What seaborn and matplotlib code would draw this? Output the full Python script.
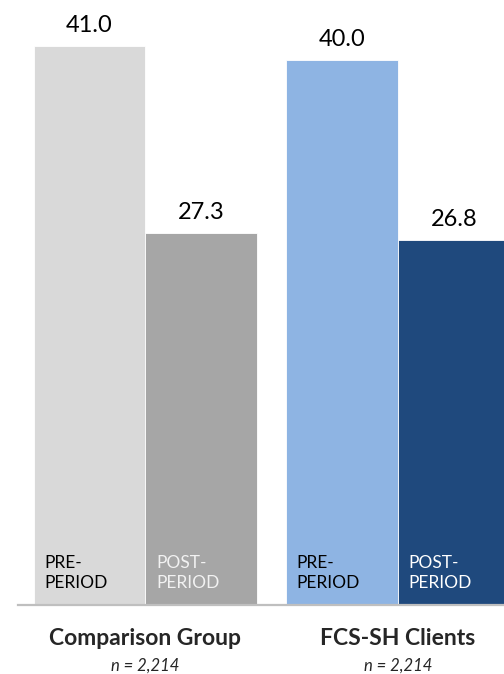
import pandas as pd
import seaborn as sns
from matplotlib import pyplot as plt

# chart values
groups = ['Comparison Group', 'FCS-SH Clients']
periods = ['PRE-\nPERIOD', 'POST-\nPERIOD']
comparison_values = [41.0, 27.3]
clients_values = [40.0, 26.8]
group_sizes = ['n = 2,214', 'n = 2,214']

comparison_colors = ['#D9D9D9', '#A6A6A6']
clients_colors = ['#8EB4E3', '#1F497D']
comparison_text = ['black', '#F2F2F2']
clients_text = ['black', 'white']

sns.set_style('white')
plt.rcParams['font.family'] = ['Lato', 'DejaVu Sans']

fig = plt.figure(figsize=(5.04, 6.74), dpi=100)
ax = fig.add_axes([18 / 504, 69 / 674, 486 / 504, 605 / 674])

df_comp = pd.DataFrame({'group': groups[0], 'period': periods, 'value': comparison_values})
df_cli = pd.DataFrame({'group': groups[1], 'period': periods, 'value': clients_values})

text_colors = []
for df, colors, tcolors in [(df_comp, comparison_colors, comparison_text),
                            (df_cli, clients_colors, clients_text)]:
    sns.barplot(data=df, x='group', y='value', hue='period', order=groups,
                hue_order=periods, palette=colors, width=0.887, saturation=1,
                edgecolor='white', linewidth=0.6, legend=False, ax=ax)
    text_colors += tcolors

ax.set_xlim(-0.505, 1.42)
ax.set_ylim(0, 44.37)
ax.set_xlabel('')
ax.set_ylabel('')
ax.set_xticks([])
ax.set_yticks([])
sns.despine(ax=ax, left=True, top=True, right=True)
ax.spines['bottom'].set_color('#BFBFBF')
ax.spines['bottom'].set_linewidth(1.6)

# value labels on top, period text inside each bar
for container, period, tcolor in zip(ax.containers, periods * 2, text_colors):
    ax.bar_label(container, fmt='%.1f', padding=7, fontsize=17, color='black')
    for patch in container.patches:
        if patch.get_height() <= 0:
            continue
        ax.annotate(period, xy=(patch.get_x(), 0), xytext=(7.5, 12.2),
                    textcoords='offset points', ha='left', va='baseline',
                    fontsize=12.5, color=tcolor, linespacing=1.3)

# group names and sample sizes under the axis
for i, (name, size) in enumerate(zip(groups, group_sizes)):
    ax.annotate(name, xy=(i, 0), xytext=(0, -29), textcoords='offset points',
                ha='center', va='baseline', fontsize=16.5, fontweight='bold',
                annotation_clip=False)
    ax.annotate(size, xy=(i, 0), xytext=(0, -47), textcoords='offset points',
                ha='center', va='baseline', fontsize=12, fontstyle='italic',
                annotation_clip=False)

fig.savefig('out.png', dpi=100)
